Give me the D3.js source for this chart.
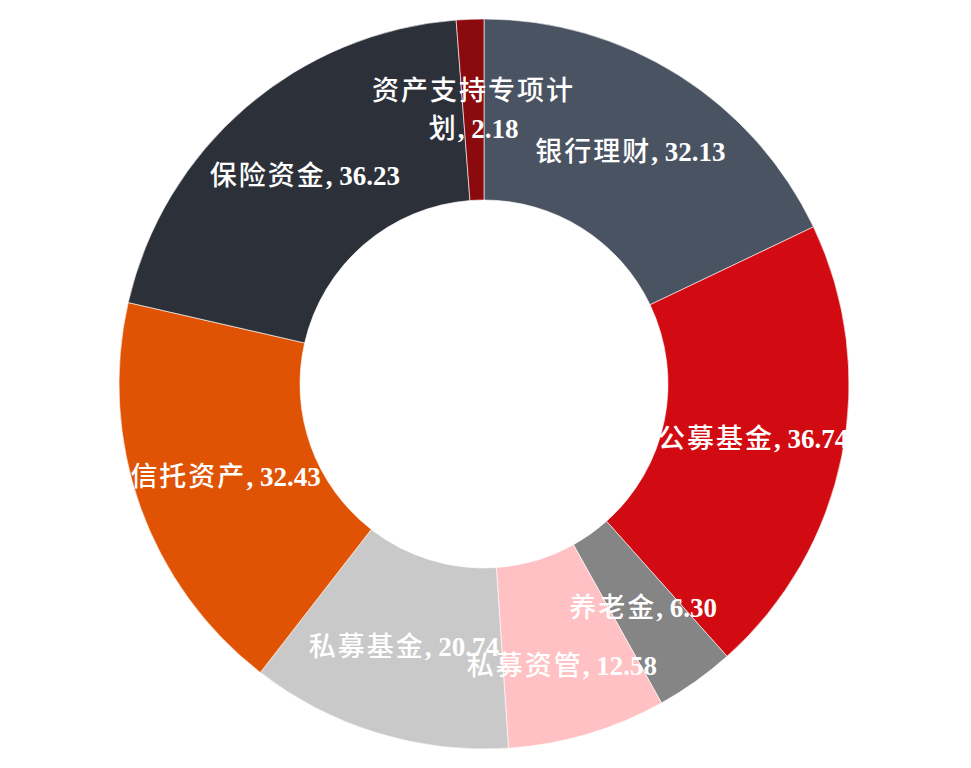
<!DOCTYPE html>
<html>
<head>
<meta charset="utf-8">
<script src="https://cdn.jsdelivr.net/npm/d3@7"></script>
<style>
  body { margin: 0; background: #fff; }
  svg { display: block; }
</style>
</head>
<body>
<svg id="chart" width="971" height="768"></svg>
<script>
// slice names, clockwise from 12 o'clock
const categories = ["银行理财", "公募基金", "养老金", "私募资管", "私募基金", "信托资产", "保险资金", "资产支持专项计划"];
const values = [32.13, 36.74, 6.30, 12.58, 20.74, 32.43, 36.23, 2.18];
const colors = ["#4a5361", "#d20a11", "#858585", "#ffc1c3", "#c9c9c9", "#e05304", "#2c3139", "#8b0a0d"];
// small label nudges (px) where the source moved a label off the centroid
const labelNudgeY = [0, 0, 0, 18, 0, 0, 0, 0];

const width = 971, height = 768;
const cx = 484, cy = 384;
const outerR = 365, innerR = 184;
const fontSize = 27;
const wrapWidth = 215;

const svg = d3.select("#chart");
const g = svg.append("g").attr("transform", `translate(${cx},${cy})`);

const data = categories.map((name, i) => ({ name, value: values[i], color: colors[i], nudge: labelNudgeY[i] }));

const pie = d3.pie()
  .sort(null)
  .value((d) => d.value)
  .startAngle(0)
  .endAngle(2 * Math.PI);

const arc = d3.arc().innerRadius(innerR).outerRadius(outerR);
const labelArc = d3.arc().innerRadius((innerR + outerR) / 2).outerRadius((innerR + outerR) / 2);

const arcs = pie(data);

g.selectAll("path.slice")
  .data(arcs)
  .join("path")
  .attr("class", "slice")
  .attr("d", arc)
  .attr("fill", (d) => d.data.color)
  .attr("stroke", "#ffffff")
  .attr("stroke-width", 0.6);

// labels are white; where they run outside the ring they simply vanish on white
const labels = g.selectAll("text.label")
  .data(arcs)
  .join("text")
  .attr("class", "label")
  .attr("text-anchor", "middle")
  .attr("fill", "#ffffff")
  .style("font-size", fontSize + "px");

labels.each(function (d) {
  const [x, y] = labelArc.centroid(d);
  const text = d3.select(this);
  const valueText = ", " + d.data.value.toFixed(2);

  // measure to decide on a wrap (like the office chart label box)
  const probe = text.append("tspan")
    .style("font-family", "'Noto Sans CJK SC', sans-serif")
    .style("letter-spacing", "2px")
    .text(d.data.name + valueText);
  const w = this.getComputedTextLength();
  probe.remove();

  let lines = [[d.data.name, valueText]];
  if (w > wrapWidth) {
    // break inside the name, keep the number on the second line
    const chars = Array.from(d.data.name);
    lines = [[chars.slice(0, -1).join(""), ""], [chars.slice(-1).join(""), valueText]];
  }

  const lineH = fontSize * 1.4;
  const y0 = y + d.data.nudge - ((lines.length - 1) * lineH) / 2 + fontSize * 0.35;

  lines.forEach((parts, li) => {
    text.append("tspan")
      .attr("x", x)
      .attr("y", y0 + li * lineH)
      .style("font-family", "'Noto Sans CJK SC', sans-serif")
      .style("font-weight", 500)
      .style("letter-spacing", "2px")
      .text(parts[0]);
    if (parts[1]) {
      text.append("tspan")
        .style("font-family", "'Liberation Serif', 'Times New Roman', serif")
        .style("font-weight", 700)
        .style("letter-spacing", "0px")
        .text(parts[1]);
    }
  });
});
</script>
</body>
</html>
